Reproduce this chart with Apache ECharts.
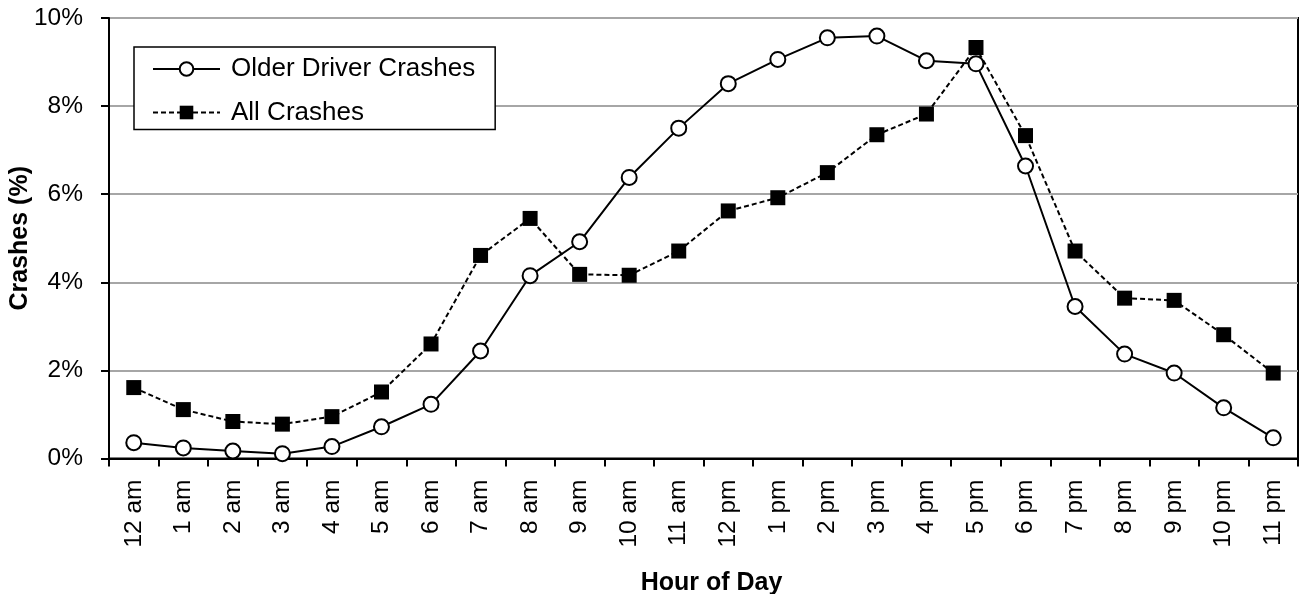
<!DOCTYPE html>
<html>
<head>
<meta charset="utf-8">
<script src="https://cdn.jsdelivr.net/npm/echarts@6/dist/echarts.min.js"></script>
<style>
html,body{margin:0;padding:0;background:#fff;}
#c{width:1303px;height:594px;}
</style>
</head>
<body>
<div id="c"></div>
<script>
const hours = ['12 am','1 am','2 am','3 am','4 am','5 am','6 am','7 am','8 am','9 am','10 am','11 am',
               '12 pm','1 pm','2 pm','3 pm','4 pm','5 pm','6 pm','7 pm','8 pm','9 pm','10 pm','11 pm'];
const olderDriver = [0.36,0.24,0.17,0.11,0.27,0.72,1.23,2.44,4.15,4.92,6.38,7.50,
                     8.51,9.06,9.55,9.59,9.03,8.96,6.64,3.45,2.37,1.94,1.15,0.47];
const allCrashes = [1.61,1.11,0.84,0.78,0.95,1.51,2.60,4.61,5.45,4.18,4.16,4.71,
                    5.62,5.92,6.49,7.35,7.82,9.33,7.33,4.71,3.64,3.59,2.81,1.94];
const seriesNames = ['Older Driver Crashes','All Crashes'];
const yTicks = [0,2,4,6,8,10];

const FONT = "'Liberation Sans', Arial, sans-serif";
const chart = echarts.init(document.getElementById('c'));
chart.setOption({
  animation: false,
  backgroundColor: '#fff',
  grid: {left:109, top:18, right:5, bottom:135.5, show:true, borderColor:'#000', borderWidth:2,
         containLabel:false, outerBoundsMode:'none'},
  legend: {
    left:134, top:47, orient:'vertical',
    backgroundColor:'#fff', borderColor:'#000', borderWidth:1.5,
    padding:[9,20,4,18], itemGap:17.5, itemWidth:67, itemHeight:17,
    textStyle:{fontFamily:FONT, fontSize:26, color:'#000', lineHeight:17, padding:[0,0,0,6]},
    data: seriesNames
  },
  xAxis: {
    type:'category', data:hours, boundaryGap:true,
    axisLine:{lineStyle:{color:'#000', width:2}},
    axisTick:{show:true, alignWithLabel:false, length:8, lineStyle:{color:'#000', width:2}},
    axisLabel:{rotate:90, interval:0, margin:21, fontFamily:FONT, fontSize:24.5, color:'#000'},
    name:'Hour of Day', nameLocation:'middle', nameGap:112, nameMoveOverlap:false,
    nameTextStyle:{fontFamily:FONT, fontSize:25, fontWeight:'bold', color:'#000', verticalAlign:'top', padding:[0,0,0,16]}
  },
  yAxis: {
    type:'value', min:yTicks[0], max:yTicks[yTicks.length-1], interval:2,
    axisLine:{show:true, lineStyle:{color:'#000', width:2}},
    axisTick:{show:true, length:8, lineStyle:{color:'#000', width:2}},
    axisLabel:{margin:26, fontFamily:FONT, fontSize:24.5, color:'#000', formatter:'{value}%'},
    splitLine:{show:true, lineStyle:{color:'#a6a6a6', width:2}},
    name:'Crashes (%)', nameLocation:'middle', nameGap:76, nameMoveOverlap:false,
    nameTextStyle:{fontFamily:FONT, fontSize:25, fontWeight:'bold', color:'#000'}
  },
  series: [
    {
      name:seriesNames[0], type:'line', data:olderDriver, z:3,
      symbol:'circle', symbolSize:15,
      lineStyle:{color:'#000', width:2, type:'solid'},
      itemStyle:{color:'#fff', borderColor:'#000', borderWidth:2}
    },
    {
      name:seriesNames[1], type:'line', data:allCrashes, z:2,
      symbol:'rect', symbolSize:15,
      lineStyle:{color:'#000', width:2, type:[5,3]},
      itemStyle:{color:'#000', borderColor:'#000', borderWidth:0}
    }
  ]
});
</script>
</body>
</html>
